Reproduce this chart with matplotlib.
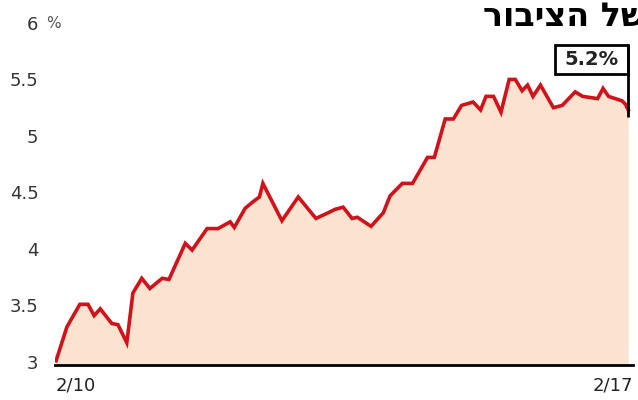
import matplotlib.pyplot as plt
from matplotlib.patches import Rectangle

# months since Feb 2010 and value in percent
months = [0, 1.6, 3.5, 4.7, 5.6, 6.5, 8.2, 9.1, 10.4, 11.3, 12.6, 13.8, 15.6, 16.6,
          19.0, 20.0, 22.2, 23.8, 25.6, 26.2, 27.8, 29.0, 29.9, 30.4, 33.2, 35.6,
          38.2, 40.0, 41.0, 42.2, 43.5, 44.3, 46.3, 48.1, 49.1, 50.9, 52.4, 54.6,
          55.6, 57.2, 58.4, 59.6, 61.3, 62.4, 63.2, 64.3, 65.4, 66.6, 67.5, 68.5,
          69.3, 70.1, 71.2, 73.1, 74.4, 76.3, 77.4, 79.6, 80.4, 81.2, 83.2, 83.7, 84.1]
values = [3.01, 3.31, 3.51, 3.51, 3.41, 3.47, 3.34, 3.33, 3.17, 3.61, 3.74, 3.65, 3.74, 3.73,
          4.05, 3.99, 4.18, 4.18, 4.24, 4.19, 4.36, 4.42, 4.46, 4.58, 4.25, 4.46,
          4.27, 4.32, 4.35, 4.37, 4.27, 4.28, 4.20, 4.32, 4.47, 4.58, 4.58, 4.81,
          4.81, 5.15, 5.15, 5.27, 5.30, 5.23, 5.35, 5.35, 5.21, 5.50, 5.50, 5.40,
          5.45, 5.35, 5.45, 5.25, 5.27, 5.39, 5.35, 5.33, 5.42, 5.35, 5.31, 5.28, 5.23]
yticks = [3, 3.5, 4, 4.5, 5, 5.5, 6]
ylabels = ['3', '3.5', '4', '4.5', '5', '5.5', '6']
xlabels = ['2/10', '2/17']
last_label = '5.2%'
title = 'רוביצה לש'  # "של הציבור" in visual order (matplotlib has no bidi)

red = '#d0121b'
peach = '#fce3cf'

fig = plt.figure(figsize=(6.38, 4), dpi=100)
ax = fig.add_axes([55/638, 35/400, 578/638, 350/400])
ax.fill_between(months, values, 2.9, color=peach, lw=0)
ax.plot(months, values, color=red, lw=2.6, solid_joinstyle='miter')

ax.set_xlim(-0.15, 84.8)
ax.set_ylim(2.973, 6.07)
for s in ['top', 'right', 'left']:
    ax.spines[s].set_visible(False)
ax.spines['bottom'].set_linewidth(2)
ax.spines['bottom'].set_color('black')
ax.set_xticks([])
ax.set_yticks(yticks)
ax.set_yticklabels(ylabels, fontsize=13, color='#333333')
ax.tick_params(axis='y', length=0, pad=12)
# unit sign next to the top label
fig.text(46/638, 1 - 24/400, '%', fontsize=11, color='#555555', ha='left', va='center')

# date labels
ax.text(months[0], -0.06, xlabels[0], transform=ax.get_xaxis_transform(),
        fontsize=13, color='#222222', ha='left', va='center')
ax.text(84.8, -0.06, xlabels[1], transform=ax.get_xaxis_transform(),
        fontsize=13, color='#222222', ha='right', va='center')

# callout for the last value
x_end, y_end = months[-1], values[-1]
ax.plot([x_end, x_end], [y_end - 0.06, 5.805], color='black', lw=2, solid_capstyle='butt')
w = 73 / 6.8
ax.add_patch(Rectangle((x_end - w, 5.55), w, 0.255, fc='white', ec='black', lw=2))
ax.text(x_end - w / 2, 5.677, last_label, ha='center', va='center',
        fontsize=14, fontweight='bold', color='#222222')

# heading, cut off at the right edge as in the source
fig.text(483/638, 1 - 17/400, title, fontsize=24, fontweight='bold',
         ha='left', va='center', color='black')

fig.savefig('out.png', dpi=100)
